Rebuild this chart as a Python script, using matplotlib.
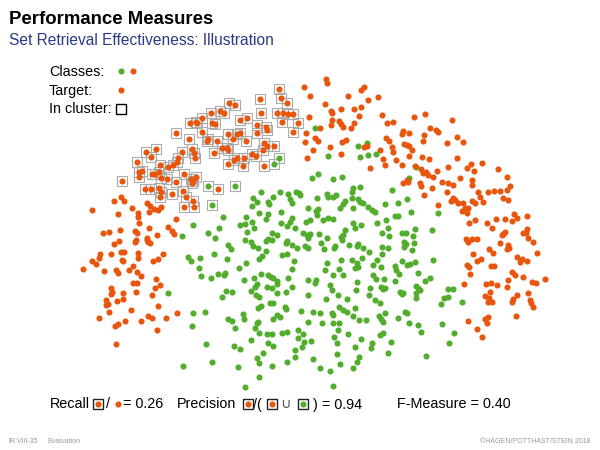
import matplotlib
matplotlib.use("Agg")
import matplotlib.pyplot as plt

plt.rcParams['font.family'] = ['Liberation Sans', 'DejaVu Sans']

ORANGE = '#e8560e'
GREEN = '#52ad2c'
BLUE = '#2b3a87'

# Target (orange) documents inside the retrieved cluster  (pixel coords x, y)
cluster_orange = [
    (279,89),(281,98),(287,103),(260,99),(229,103),(235,105),(220,111),(224,113),(211,113),(202,118),
    (196,122),(190,123),(197,123),(212,123),(215,124),(240,120),(247,118),(261,113),(277,113),(283,113),
    (288,114),(293,114),(282,122),(298,123),(293,132),(257,125),(266,127),(267,130),(202,132),(176,133),
    (189,139),(208,139),(207,141),(217,141),(228,134),(237,134),(240,133),(233,139),(246,141),(257,133),
    (264,143),(267,146),(274,146),(263,150),(222,148),(227,148),(228,150),(214,153),(234,160),(237,158),
    (228,164),(244,158),(252,154),(256,156),(243,166),(264,166),(192,149),(194,153),(195,158),(182,152),
    (178,158),(177,162),(173,165),(168,167),(160,165),(159,172),(146,152),(156,149),(151,157),(137,162),
    (139,172),(142,171),(139,177),(152,174),(155,174),(161,178),(167,179),(176,182),(184,174),(191,179),
    (193,181),(196,177),(192,183),(122,181),(145,189),(151,189),(159,188),(161,192),(160,197),(172,194),
    (183,191),(186,197),(184,207),(194,207),(193,201),(218,189),
]
cluster_orange_x = [p[0] for p in cluster_orange]
cluster_orange_y = [p[1] for p in cluster_orange]

# Non-target (green) documents inside the retrieved cluster
cluster_green = [(208,186),(235,186),(212,205),(279,158),(274,164)]
cluster_green_x = [p[0] for p in cluster_green]
cluster_green_y = [p[1] for p in cluster_green]

# Target (orange) documents outside the cluster
orange = [
    # left crescent
    (92,210),(114,201),(121,197),(124,201),(118,214),(132,208),(138,213),(138,217),(139,223),(147,203),
    (150,206),(149,212),(154,209),(158,210),(161,207),(176,219),(103,233),(109,232),(120,230),(135,231),
    (137,233),(149,228),(168,227),(172,231),(174,234),(157,235),(147,238),(148,242),(150,243),(147,240),
    (136,240),(135,242),(119,241),(114,244),(100,254),(99,258),(92,261),(96,264),(111,254),(121,252),
    (124,252),(122,260),(123,261),(138,253),(138,258),(163,254),(153,261),(158,259),(133,266),(83,269),
    (104,271),(116,270),(118,273),(129,270),(137,272),(141,276),(133,283),(137,283),(156,279),(155,288),
    (160,285),(111,288),(112,292),(111,294),(123,293),(136,292),(152,295),(106,300),(107,304),(106,305),
    (108,304),(117,301),(123,299),(158,306),(109,312),(131,310),(99,318),(125,321),(118,324),(115,326),
    (141,321),(148,316),(152,318),(166,318),(177,313),(157,330),(116,344),
    # upper arc
    (304,87),(326,79),(327,83),(310,96),(325,104),(331,111),(332,113),(341,109),(348,96),(361,90),
    (364,87),(378,97),(368,100),(361,107),(354,109),(359,116),(309,117),(332,120),(331,125),(339,121),
    (341,124),(343,127),(354,123),(351,128),(320,128),(306,133),(315,138),(318,141),(305,142),(313,150),
    (307,158),(330,147),(342,142),(346,140),(341,154),(364,147),(367,146),(370,168),(380,150),(382,115),
    (387,123),(393,122),(386,138),(389,141),(392,147),(393,152),(383,159),(385,165),(396,160),(402,165),
    (403,131),(402,134),(409,133),(404,144),(407,145),(409,146),(412,150),(409,156),(414,117),(425,114),
    (424,135),(423,141),(422,157),(430,128),(436,130),(438,132),(429,159),(415,166),(421,169),(423,173),
    (426,172),(428,175),(433,177),(437,171),(447,143),(448,167),(452,120),(457,137),(463,142),(457,158),
    (467,168),(442,182),(448,183),(453,185),(460,178),(403,183),(407,180),(408,182),(420,183),(421,186),
    (432,188),(447,192),
    # right crescent
    (471,164),(474,171),(482,163),(498,169),(507,177),(472,180),(472,185),(510,186),(507,190),(500,191),
    (494,191),(488,192),(478,192),(480,197),(483,202),(472,201),(475,203),(503,198),(508,200),(424,195),
    (453,198),(451,201),(455,200),(458,203),(463,203),(462,211),(465,208),(468,208),(467,213),(438,205),
    (469,223),(475,220),(487,223),(492,228),(496,219),(505,219),(512,221),(514,214),(517,218),(527,216),
    (527,229),(526,233),(523,233),(528,238),(533,242),(537,253),(505,232),(503,234),(502,235),(500,243),
    (508,245),(509,248),(507,249),(466,239),(468,242),(472,239),(477,239),(489,249),(493,253),(473,254),
    (481,259),(477,261),(467,265),(469,267),(491,266),(494,266),(470,274),(464,284),(517,257),(520,262),
    (522,259),(527,261),(512,272),(515,275),(508,280),(523,277),(545,279),(532,282),(536,283),(507,287),
    (486,284),(491,283),(497,285),(490,292),(485,296),(489,298),(488,302),(492,302),(517,295),(513,299),
    (512,302),(528,293),(530,300),(531,303),(533,307),(516,316),(488,317),(485,319),(487,323),(468,321),
    (477,329),(482,337),
]
orange_x = [p[0] for p in orange]
orange_y = [p[1] for p in orange]

# Non-target (green) documents outside the cluster
green = [
    (315,128),(367,143),(358,146),(360,157),(368,155),(376,154),(328,156),(416,167),(409,178),(168,293),
    (245,387),(333,386),(183,366),
    (312,178),(318,174),(261,192),(253,198),(257,202),(268,202),(269,204),(273,197),(280,192),(288,194),
    (290,199),(292,203),(296,192),(299,193),(300,195),(317,198),(327,194),(328,197),(252,206),(259,213),
    (268,214),(281,212),(308,208),(316,211),(318,209),(317,215),(223,217),(246,217),(266,219),(292,218),
    (290,222),(281,223),(306,222),(310,220),(323,220),(193,225),(240,225),(245,224),(252,222),(254,228),
    (287,226),(295,228),(219,228),(208,233),(215,238),(247,232),(272,233),(277,235),(268,239),(266,241),
    (303,233),(307,235),(310,234),(308,238),(319,234),(327,238),(182,236),(245,240),(251,242),(253,246),
    (258,248),(272,240),(287,241),(286,243),(292,245),(297,248),(305,246),(308,248),(321,243),(324,249),
    (228,245),(231,249),(266,251),(214,254),(188,257),(191,261),(200,258),(227,259),(262,256),(259,259),
    (282,255),(287,254),(294,261),(246,263),(239,268),(199,268),(327,263),(325,270),(292,269),(201,276),
    (211,278),(218,274),(225,273),(224,275),(261,274),(268,275),(271,277),(273,278),(277,281),(277,284),
    (254,278),(244,280),(288,278),(308,280),(316,280),(315,283),(257,284),(255,287),(267,287),(272,288),
    (292,287),(226,291),(232,292),(251,291),(256,295),(259,297),(277,293),(286,292),(308,295),(222,297),
    (326,299),(261,306),(258,308),(270,303),(273,303),(285,307),(286,309),(301,311),(313,312),(320,313),
    (193,313),(205,312),(243,314),(244,319),(228,319),(232,321),(277,315),(280,317),(273,319),(258,322),
    (257,323),(308,322),(322,323),(192,326),(235,328),(255,328),(259,333),(267,334),(272,334),(282,333),
    (287,332),(298,330),(303,334),(298,338),(304,342),(302,347),(295,350),(311,341),(251,340),(268,343),
    (273,346),(206,344),(234,346),(240,349),(263,353),(295,357),(287,362),(313,359),(257,358),(259,363),
    (212,362),(238,367),(272,366),(320,368),(259,377),
    (333,179),(342,177),(353,188),(352,192),(360,187),(392,190),(333,197),(336,195),(345,201),(343,204),
    (352,198),(358,199),(360,202),(363,203),(340,208),(353,208),(368,207),(372,210),(375,212),(385,204),
    (398,203),(407,199),(411,212),(438,213),(395,216),(398,216),(328,218),(333,219),(386,220),(377,223),
    (353,223),(355,228),(361,225),(345,230),(343,235),(341,237),(342,240),(382,233),(388,228),(389,236),
    (402,233),(406,233),(415,229),(413,236),(432,230),(349,245),(357,246),(358,244),(363,248),(369,252),
    (335,246),(334,248),(382,247),(388,248),(404,242),(406,244),(404,247),(414,243),(412,250),(382,254),
    (362,258),(352,260),(357,263),(355,268),(358,267),(341,260),(339,269),(343,275),(373,265),(377,260),
    (381,267),(402,261),(407,265),(410,264),(415,262),(395,266),(396,270),(433,260),(333,275),(373,275),
    (376,279),(384,279),(399,274),(395,281),(418,273),(430,278),(425,281),(330,285),(332,290),(357,282),
    (356,290),(370,288),(369,295),(381,287),(383,289),(385,288),(400,292),(402,294),(403,293),(416,286),
    (418,288),(420,290),(416,293),(448,289),(453,289),(444,298),(448,297),(441,304),(462,302),(338,295),
    (347,299),(375,300),(380,303),(416,298),(339,307),(343,310),(347,312),(355,308),(332,313),(333,315),
    (353,316),(379,316),(381,319),(383,322),(385,313),(398,318),(405,312),(407,313),(359,320),(366,320),
    (333,323),(339,323),(409,323),(418,325),(442,324),(338,330),(348,334),(334,337),(361,339),(380,335),
    (383,333),(391,342),(372,343),(371,348),(421,332),(454,333),(449,343),(337,343),(355,347),(359,357),
    (357,362),(337,354),(340,364),(388,353),(426,356),(353,368),(330,371),
]
green_x = [p[0] for p in green]
green_y = [p[1] for p in green]

title = "Performance Measures"
subtitle = "Set Retrieval Effectiveness: Illustration"
recall_text = "= 0.26"
precision_text = ") = 0.94"
fmeasure_text = "F-Measure = 0.40"

fig = plt.figure(figsize=(6, 4.5), dpi=100)
ax = fig.add_axes([0, 0, 1, 1])
ax.set_xlim(0, 600)
ax.set_ylim(450, 0)
ax.axis('off')

DOT = 4.4
BOX = 7.6
# cluster boxes
ax.plot(cluster_orange_x + cluster_green_x, cluster_orange_y + cluster_green_y, 's', ms=BOX,
        mfc='none', mec='#ababab', mew=0.8, zorder=2)
ax.plot(green_x, green_y, 'o', ms=DOT, color=GREEN, mec='none', zorder=3)
ax.plot(cluster_green_x, cluster_green_y, 'o', ms=DOT, color=GREEN, mec='none', zorder=3)
ax.plot(orange_x, orange_y, 'o', ms=DOT, color=ORANGE, mec='none', zorder=3)
ax.plot(cluster_orange_x, cluster_orange_y, 'o', ms=DOT, color=ORANGE, mec='none', zorder=3)

# titles
ax.text(9, 24, title, fontsize=13.4, fontweight='bold', va='baseline', ha='left')
ax.text(9, 45, subtitle, fontsize=11.2, color=BLUE, va='baseline', ha='left')

FS = 10.4
# legend
ax.text(49, 76, "Classes:", fontsize=FS, va='baseline')
ax.text(49, 95, "Target:", fontsize=FS, va='baseline')
ax.text(49, 113, "In cluster:", fontsize=FS, va='baseline')
ax.plot([120.5], [71], 'o', ms=DOT, color=GREEN, mec='none')
ax.plot([132.5], [71], 'o', ms=DOT, color=ORANGE, mec='none')
ax.plot([120.5], [90], 'o', ms=DOT, color=ORANGE, mec='none')
ax.plot([121], [108.5], 's', ms=7.2, mfc='none', mec='black', mew=1.0)

# bottom formula line
BY = 408.5
MY = 404
def boxdot(x, c):
    ax.plot([x], [MY], 's', ms=7.2, mfc='white', mec='#222222', mew=1.0, zorder=4)
    ax.plot([x], [MY], 'o', ms=DOT, color=c, mec='none', zorder=5)

ax.text(50, BY, "Recall", fontsize=FS, va='baseline')
boxdot(97.5, ORANGE)
ax.text(106.5, BY, "/", fontsize=FS, va='baseline')
ax.plot([117.5], [MY], 'o', ms=DOT, color=ORANGE, mec='none')
ax.text(123, BY, recall_text, fontsize=FS, va='baseline')
ax.text(177, BY, "Precision", fontsize=FS, va='baseline')
boxdot(247.5, ORANGE)
ax.text(253, BY, "/(", fontsize=FS, va='baseline')
boxdot(271.5, ORANGE)
ax.text(285, BY, "\u222a", fontsize=FS, va='baseline', ha='center', color='#555555',
        family=['DejaVu Sans'])
boxdot(302.5, GREEN)
ax.text(313, BY, precision_text, fontsize=FS, va='baseline')
ax.text(397, BY, fmeasure_text, fontsize=FS, va='baseline')

# footer
ax.text(8, 443, "IR:VIII-35", fontsize=5, color='#999999', va='baseline')
ax.text(47, 443, "Evaluation", fontsize=5, color='#999999', va='baseline')
ax.text(591, 443, "\u00a9HAGEN/POTTHAST/STEIN 2018", fontsize=5, color='#999999', va='baseline', ha='right')

fig.savefig("out.png", dpi=100)
